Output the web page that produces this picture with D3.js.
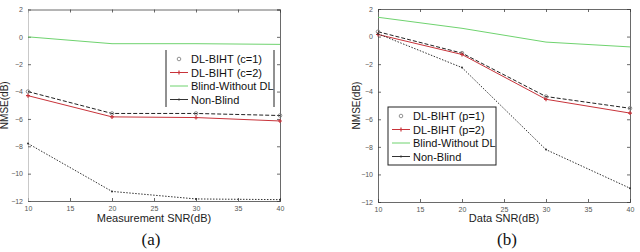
<!DOCTYPE html>
<html>
<head>
<meta charset="utf-8">
<script src="https://cdn.jsdelivr.net/npm/d3@7"></script>
<style>
  body { margin: 0; background: #fff; }
  svg { display: block; font-family: "Liberation Sans", Arial, sans-serif; }
  .tick text { fill: #555; font-size: 7px; }
</style>
</head>
<body>
<svg id="chart" width="640" height="252"></svg>
<script>
// shared axis values
var snr = [10, 20, 30, 40];
var xTicks = [10, 15, 20, 25, 30, 35, 40];
var yTicks = [2, 0, -2, -4, -6, -8, -10, -12];

// panel (a): Measurement SNR
var a_c1 = [-4.0, -5.6, -5.6, -5.75];
var a_c2 = [-4.3, -5.85, -5.9, -6.15];
var a_blind = [0, -0.5, -0.5, -0.55];
var a_nonblind = [-7.8, -11.3, -11.85, -11.9];
var a_names = ["DL-BIHT (c=1)", "DL-BIHT (c=2)", "Blind-Without DL", "Non-Blind"];

// panel (b): Data SNR
var b_c1 = [0.35, -1.2, -4.35, -5.2];
var b_c2 = [0.15, -1.3, -4.55, -5.55];
var b_blind = [1.4, 0.6, -0.4, -0.75];
var b_nonblind = [0.2, -2.25, -8.2, -11.0];
var b_names = ["DL-BIHT (p=1)", "DL-BIHT (p=2)", "Blind-Without DL", "Non-Blind"];

var svg = d3.select("#chart");

// line styles for the four series
var styles = [
  {color: "#222", dash: "4,2", marker: "circle"},
  {color: "#c8333a", dash: null, marker: "plus"},
  {color: "#6fd36f", dash: null, marker: null},
  {color: "#333", dash: "1.5,1.5", marker: "dot"}
];

function drawMarker(g, kind, x, y, color) {
  if (kind == "circle") {
    g.append("circle").attr("cx", x).attr("cy", y).attr("r", 1.8)
      .attr("fill", "none").attr("stroke", "#777").attr("stroke-width", 0.8);
  } else if (kind == "plus") {
    g.append("path").attr("d", "M" + (x - 2) + "," + y + "h4M" + x + "," + (y - 2) + "v4")
      .attr("stroke", color).attr("stroke-width", 1.2);
  } else if (kind == "dot") {
    g.append("circle").attr("cx", x).attr("cy", y).attr("r", 1).attr("fill", color);
  }
}

function drawPanel(p) {
  var g = svg.append("g");
  var x = d3.scaleLinear().domain([10, 40]).range([p.left, p.right]);
  var y = d3.scaleLinear().domain([-12, 2]).range([p.bottom, p.top]);

  // matlab-like box with inward ticks
  g.append("g").attr("transform", "translate(0," + p.bottom + ")")
    .call(d3.axisBottom(x).tickValues(xTicks).tickSize(-3).tickPadding(5));
  g.append("g").attr("transform", "translate(0," + p.top + ")")
    .call(d3.axisTop(x).tickValues(xTicks).tickSize(-3).tickFormat(""));
  var yl = g.append("g").attr("transform", "translate(" + p.left + ",0)")
    .call(d3.axisLeft(y).tickValues(yTicks).tickSize(-3).tickPadding(5));
  g.append("g").attr("transform", "translate(" + p.right + ",0)")
    .call(d3.axisRight(y).tickValues(yTicks).tickSize(-3).tickFormat(""));
  g.selectAll(".domain").attr("stroke", "#444").attr("stroke-width", 0.8);
  g.selectAll(".tick line").attr("stroke", "#444").attr("stroke-width", 0.8);
  yl.select(".domain").attr("stroke", p.leftAxisColor);

  var line = d3.line().x((d, i) => x(snr[i])).y(d => y(d));
  // draw green first so the others sit on top
  [2, 0, 1, 3].forEach(function (k) {
    var s = styles[k];
    g.append("path").attr("d", line(p.series[k]))
      .attr("fill", "none").attr("stroke", s.color).attr("stroke-width", 1)
      .attr("stroke-dasharray", s.dash);
    p.series[k].forEach(function (v, i) {
      drawMarker(g, s.marker, x(snr[i]), y(v), s.color);
    });
  });

  // legend
  var lg = g.append("g");
  if (p.legendBox) {
    lg.append("rect").attr("x", p.lx).attr("y", p.ly).attr("width", p.lw).attr("height", p.lh)
      .attr("fill", "#fff").attr("stroke", "#222").attr("stroke-width", 1);
  } else {
    lg.append("rect").attr("x", p.lx).attr("y", p.ly).attr("width", p.lw).attr("height", p.lh)
      .attr("fill", "#fff");
    lg.append("line").attr("x1", p.lx).attr("x2", p.lx).attr("y1", p.ly).attr("y2", p.ly + p.lh)
      .attr("stroke", "#222");
    lg.append("line").attr("x1", p.lx + p.lw).attr("x2", p.lx + p.lw).attr("y1", p.ly).attr("y2", p.ly + p.lh)
      .attr("stroke", "#222");
  }
  p.names.forEach(function (name, k) {
    var ey = p.ly + 9 + k * 13.5;
    var s = styles[k];
    lg.append("line").attr("x1", p.lx + 4).attr("x2", p.lx + 22).attr("y1", ey).attr("y2", ey)
      .attr("stroke", k == 0 ? "none" : s.color).attr("stroke-width", 1);
    drawMarker(lg, s.marker, p.lx + 13, ey, s.color);
    lg.append("text").attr("x", p.lx + 25).attr("y", ey + 4)
      .attr("font-size", 11).attr("fill", "#111").text(name);
  });

  // axis titles
  g.append("text").attr("transform", "translate(" + p.ylabX + "," + ((p.top + p.bottom) / 2) + ") rotate(-90)")
    .attr("text-anchor", "middle").attr("font-size", 10).attr("fill", "#222").text("NMSE(dB)");
  g.append("text").attr("x", (p.left + p.right) / 2).attr("y", 222)
    .attr("text-anchor", "middle").attr("font-size", 11).attr("fill", "#222").text(p.xlab);
  g.append("text").attr("x", p.capX).attr("y", 245)
    .attr("text-anchor", "middle").attr("font-size", 17)
    .attr("font-family", "'Liberation Serif', 'DejaVu Serif', serif")
    .attr("fill", "#111").text(p.caption);
}

drawPanel({
  left: 28, right: 280, top: 9.5, bottom: 201, leftAxisColor: "#bbb",
  series: [a_c1, a_c2, a_blind, a_nonblind], names: a_names,
  legendBox: false, lx: 166, ly: 50, lw: 108, lh: 57,
  ylabX: 8, xlab: "Measurement SNR(dB)", capX: 151, caption: "(a)"
});

drawPanel({
  left: 378, right: 630, top: 9, bottom: 202, leftAxisColor: "#444",
  series: [b_c1, b_c2, b_blind, b_nonblind], names: b_names,
  legendBox: true, lx: 388, ly: 107, lw: 108, lh: 58,
  ylabX: 360, xlab: "Data SNR(dB)", capX: 507, caption: "(b)"
});
</script>
</body>
</html>
